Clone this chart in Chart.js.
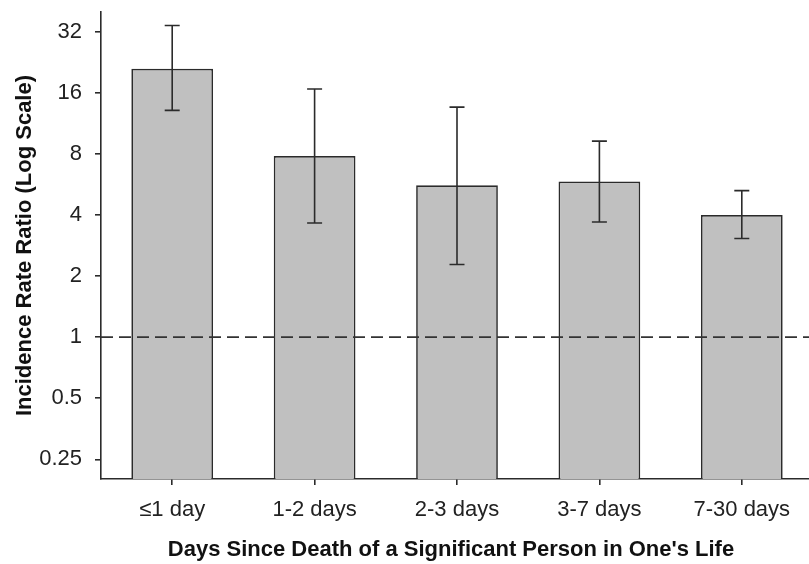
<!DOCTYPE html>
<html>
<head>
<meta charset="utf-8">
<script src="https://cdn.jsdelivr.net/npm/chart.js@4/dist/chart.umd.min.js"></script>
<style>
  html, body { margin: 0; padding: 0; background: #fff; overflow: hidden; }
  #wrap { width: 813px; height: 564px; }
</style>
</head>
<body>
<div id="wrap"><canvas id="c" width="813" height="564"></canvas></div>
<script>
// ---- data ----
const categories = ["\u22641 day", "1-2 days", "2-3 days", "3-7 days", "7-30 days"];
const ratios     = [21.0, 7.8, 5.6, 5.85, 4.0];
const ciLower    = [13.1, 3.65, 2.28, 3.69, 3.06];
const ciUpper    = [34.3, 16.7, 13.6, 9.24, 5.27];
const yTicks     = [0.25, 0.5, 1, 2, 4, 8, 16, 32];
const referenceLine = 1;
const xTitle = "Days Since Death of a Significant Person in One's Life";
const yTitle = 'Incidence Rate Ratio (Log Scale)';

const INK = '#2b2b2b';
const FONT = 'Liberation Sans, Arial, sans-serif';

const errorBars = {
  id: 'errorBars',
  afterDatasetsDraw(chart) {
    const ctx = chart.ctx;
    const y = chart.scales.y;
    const meta = chart.getDatasetMeta(0);
    ctx.save();
    // dashed reference line
    ctx.strokeStyle = '#333';
    ctx.lineWidth = 1.6;
    ctx.setLineDash([12, 6]);
    const yr = y.getPixelForValue(referenceLine);
    ctx.beginPath();
    ctx.moveTo(chart.chartArea.left, yr);
    ctx.lineTo(chart.chartArea.right, yr);
    ctx.stroke();
    ctx.setLineDash([]);
    // error bars
    ctx.strokeStyle = INK;
    ctx.lineWidth = 1.6;
    meta.data.forEach((bar, i) => {
      const x = bar.x;
      const yl = y.getPixelForValue(ciLower[i]);
      const yh = y.getPixelForValue(ciUpper[i]);
      const cap = 7.5;
      ctx.beginPath();
      ctx.moveTo(x, yl); ctx.lineTo(x, yh);
      ctx.moveTo(x - cap, yl); ctx.lineTo(x + cap, yl);
      ctx.moveTo(x - cap, yh); ctx.lineTo(x + cap, yh);
      ctx.stroke();
    });
    ctx.restore();
  },
  afterDraw(chart) {
    const ctx = chart.ctx;
    const a = chart.chartArea;
    ctx.save();
    ctx.fillStyle = '#111';
    ctx.font = 'bold 22px ' + FONT;
    ctx.textAlign = 'center';
    ctx.textBaseline = 'alphabetic';
    ctx.fillText(xTitle, (a.left + a.right) / 2 - 6, 556);
    ctx.restore();
  }
};

new Chart(document.getElementById('c'), {
  type: 'bar',
  data: {
    labels: categories,
    datasets: [{
      data: ratios,
      backgroundColor: '#c0c0c0',
      borderColor: INK,
      borderWidth: 1.7,
      categoryPercentage: 1,
      barPercentage: 0.574
    }]
  },
  options: {
    responsive: false,
    animation: false,
    layout: { padding: { top: 12, right: 0, left: 0, bottom: 0 } },
    plugins: { legend: { display: false }, tooltip: { enabled: false } },
    scales: {
      x: {
        offset: true,
        grid: { offset: false, drawOnChartArea: false, drawTicks: true, tickLength: 6, color: INK, lineWidth: 1.6 },
        border: { display: true, color: INK, width: 1.6 },
        ticks: { color: '#222', font: { family: FONT, size: 22 }, padding: 12, maxRotation: 0 },
        afterFit(scale) { scale.height = 85; scale.paddingLeft = 0; scale.paddingRight = 0; }
      },
      y: {
        type: 'logarithmic',
        min: 0.2,
        max: 40,
        afterBuildTicks(scale) { scale.ticks = yTicks.map(v => ({ value: v })); },
        grid: { drawOnChartArea: false, drawTicks: true, tickLength: 6, color: INK, lineWidth: 1.6 },
        border: { display: true, color: INK, width: 1.6 },
        ticks: {
          color: '#222',
          font: { family: FONT, size: 22 },
          padding: 13,
          callback: (v) => String(v)
        },
        title: {
          display: true,
          text: yTitle,
          color: '#111',
          font: { family: FONT, size: 22, weight: 'bold' },
          padding: { top: 12, bottom: 0 }
        },
        afterFit(scale) { scale.width = 101; scale.paddingTop = 0; scale.paddingBottom = 0; }
      }
    }
  },
  plugins: [errorBars]
});
</script>
</body>
</html>
